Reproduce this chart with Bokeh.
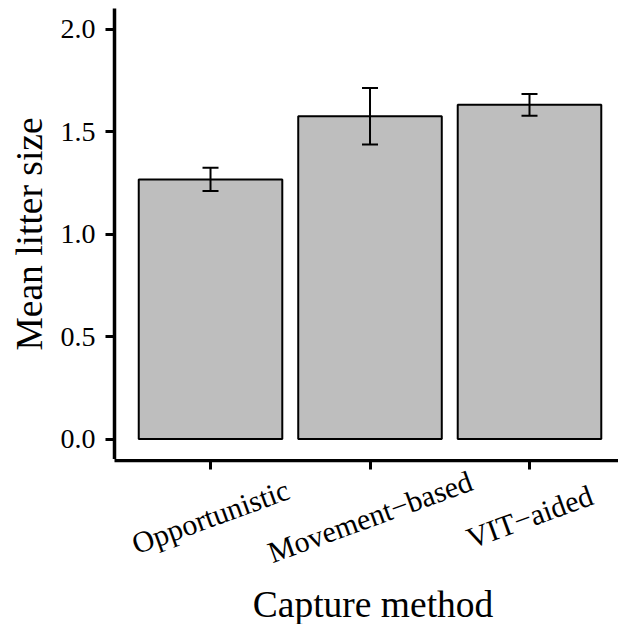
from bokeh.plotting import figure
from bokeh.models import Range1d, FixedTicker, ColumnDataSource, Whisker, TeeHead
from bokeh.layouts import column
from bokeh.core.properties import value
from bokeh.embed import file_html
from bokeh.resources import INLINE
import math

# ---- data ----
categories = ["Opportunistic", "Movement\u2212based", "VIT\u2212aided"]
mean_litter = [1.266, 1.575, 1.630]
err_lower = [1.210, 1.436, 1.577]
err_upper = [1.323, 1.712, 1.683]
y_ticks = [0.0, 0.5, 1.0, 1.5, 2.0]
y_tick_labels = ["0.0", "0.5", "1.0", "1.5", "2.0"]
x_title = "Capture method"
y_title = "Mean litter size"

FONT = "Liberation Serif"
xs = list(range(1, len(categories) + 1))

# ---- layout constants (pixels) ----
LEFT = 114
FRAME_W = 504
FRAME_H = 451
TOP = 8
TICK = 9
BOTTOM_H = 164
x_rng = Range1d(0.398, 3.558)

# ---- main panel ----
p = figure(frame_width=FRAME_W, frame_height=FRAME_H, output_backend="svg", toolbar_location=None,
           x_range=x_rng, y_range=Range1d(-0.1, 2.1), x_axis_location=None,
           min_border_left=LEFT, min_border_right=0, min_border_top=TOP, min_border_bottom=0,
           background_fill_color="white", border_fill_color="white")
p.outline_line_color = None
p.grid.visible = False

src = ColumnDataSource(dict(x=xs, top=mean_litter, lower=err_lower, upper=err_upper))
p.vbar(x="x", top="top", bottom=0, width=0.9, source=src,
       fill_color="#BEBEBE", line_color="black", line_width=2)

wh = Whisker(base="x", upper="upper", lower="lower", source=src, dimension="height",
             line_color="black", line_width=2, level="annotation",
             upper_head=TeeHead(size=16, line_color="black", line_width=2),
             lower_head=TeeHead(size=16, line_color="black", line_width=2))
p.add_layout(wh)

ya = p.yaxis[0]
ya.axis_line_width = 3.5
ya.axis_line_color = "black"
ya.major_tick_line_width = 3
ya.major_tick_line_color = "black"
ya.major_tick_out = TICK
ya.major_tick_in = 0
ya.minor_tick_line_color = None
ya.ticker = FixedTicker(ticks=y_ticks)
ya.major_label_overrides = {t: l for t, l in zip(y_ticks, y_tick_labels)}
ya.major_label_text_font = FONT
ya.major_label_text_font_size = "28px"
ya.major_label_text_color = "black"
ya.major_label_standoff = 10
ya.axis_label = y_title
ya.axis_label_text_font = FONT
ya.axis_label_text_font_size = "37.5px"
ya.axis_label_text_font_style = "normal"
ya.axis_label_text_color = "black"
ya.axis_label_standoff = 8

# ---- lower strip: x axis line + ticks, rotated category labels, x title ----
p2 = figure(frame_width=FRAME_W, frame_height=BOTTOM_H, output_backend="svg", toolbar_location=None,
            x_range=x_rng, y_range=Range1d(BOTTOM_H, 0), x_axis_location="above", y_axis_type=None,
            min_border_left=LEFT, min_border_right=0, min_border_top=1, min_border_bottom=0,
            background_fill_color="white", border_fill_color="white")
p2.outline_line_color = None
p2.grid.visible = False

xa = p2.xaxis[0]
xa.axis_line_width = 3.5
xa.axis_line_color = "black"
xa.major_tick_line_width = 3
xa.major_tick_line_color = "black"
xa.major_tick_out = 0
xa.major_tick_in = TICK
xa.minor_tick_line_color = None
xa.ticker = FixedTicker(ticks=xs)
xa.major_label_overrides = {x: "" for x in xs}
xa.major_label_text_font_size = "0px"
xa.major_label_standoff = 0

lab_src = ColumnDataSource(dict(x=xs, y=[56] * len(xs), text=categories))
p2.text(x="x", y="y", text="text", source=lab_src, angle=math.radians(20),
        text_align="center", text_baseline="middle",
        text_font=value(FONT), text_font_size="30px", text_color="black")

title_src = ColumnDataSource(dict(x=[2.019], y=[144], text=[x_title]))
p2.text(x="x", y="y", text="text", source=title_src,
        text_align="center", text_baseline="middle",
        text_font=value(FONT), text_font_size="37.5px", text_color="black")

layout = column(p, p2, spacing=0)
open("out.html", "w").write(file_html(layout, INLINE))
